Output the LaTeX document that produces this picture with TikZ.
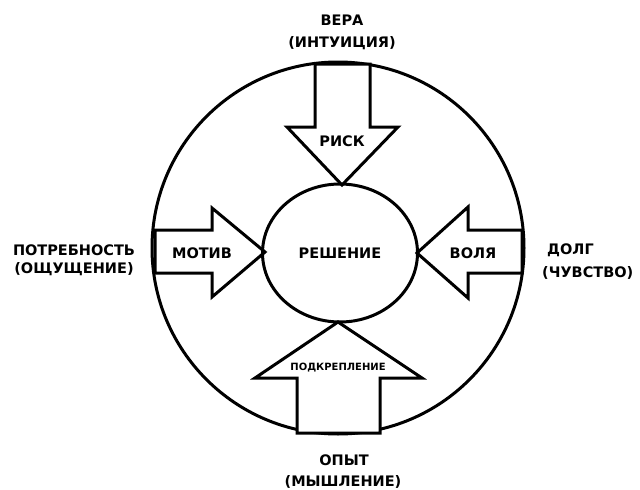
\documentclass[tikz,border=0pt]{standalone}
\usepackage{fontspec}
\setmainfont{DejaVu Sans}
\usetikzlibrary{shapes.geometric}
\begin{document}
\begin{tikzpicture}[x=1pt,y=-1pt,
  ln/.style={line width=3pt, line join=miter},
  arr/.style={ln, fill=white},
  lbl/.style={font=\fontsize{14.5}{17}\selectfont\bfseries, inner sep=0pt},
  inlbl/.style={font=\fontsize{14.5}{17}\selectfont\bfseries, inner sep=0pt},
  small/.style={font=\fontsize{10}{12}\selectfont\bfseries, inner sep=0pt}]
\useasboundingbox (0,0) rectangle (640,490);
% outer circle
\node[ln, draw, circle, minimum size=372pt, inner sep=0pt] (outer) at (338,248) {};
% arrows
\draw[arr] (315,64) -- (370,64) -- (370,127) -- (398,127) -- (342,185) -- (287,127) -- (315,127) -- cycle;
\draw[arr] (155,230) -- (212,230) -- (212,208) -- (265,252) -- (212,297) -- (212,273) -- (155,273) -- cycle;
\draw[arr] (522,230) -- (468,230) -- (468,207) -- (417,253) -- (468,298) -- (468,273) -- (522,273) -- cycle;
\draw[arr] (297,433) -- (380,433) -- (380,378) -- (422,378) -- (338,322) -- (255,378) -- (297,378) -- cycle;
% inner circle
\node[ln, draw, ellipse, minimum width=155pt, minimum height=138pt, inner sep=0pt] (inner) at (340,253) {};
\node[inlbl] (resh) at (340,253) {РЕШЕНИЕ};
\node[inlbl] (risk) at (342,141) {РИСК};
\node[inlbl] (motiv) at (202,253) {МОТИВ};
\node[inlbl] (volya) at (473,253) {ВОЛЯ};
\node[small] (podk) at (338,368) {ПОДКРЕПЛЕНИЕ};
% outside labels
\node[lbl] (vera) at (342,20) {ВЕРА};
\node[lbl] (intu) at (342,43) {(ИНТУИЦИЯ)};
\node[lbl] (potr) at (74,250) {ПОТРЕБНОСТЬ};
\node[lbl] (oshu) at (74,269) {(ОЩУЩЕНИЕ)};
\node[lbl, anchor=west] (dolg) at (547,250) {ДОЛГ};
\node[lbl, anchor=west] (chuv) at (542,273) {(ЧУВСТВО)};
\node[lbl] (opyt) at (344,460) {ОПЫТ};
\node[lbl] (mysh) at (343,482) {(МЫШЛЕНИЕ)};
\end{tikzpicture}
\end{document}
